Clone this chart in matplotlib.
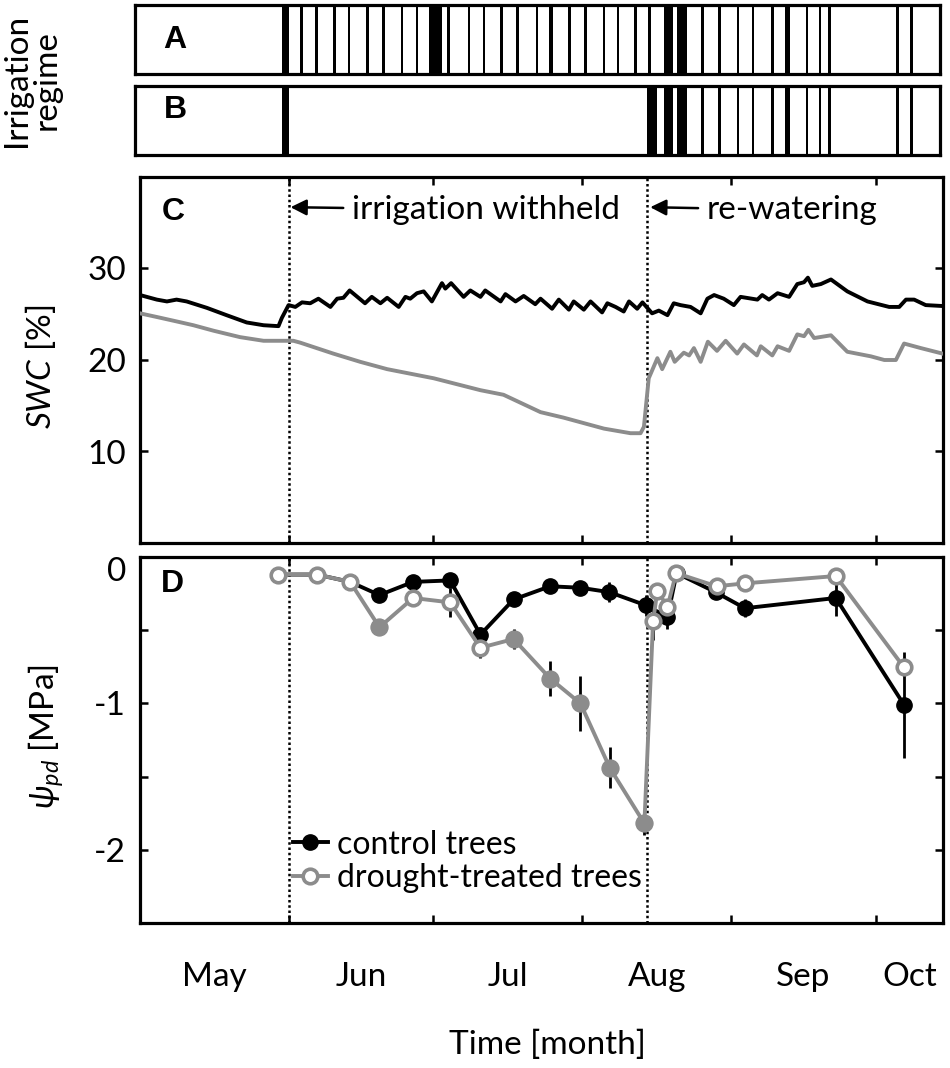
import numpy as np
import matplotlib
matplotlib.use('Agg')
import matplotlib.pyplot as plt

plt.rcParams['font.family'] = ['Lato', 'DejaVu Sans']
plt.rcParams['mathtext.fontset'] = 'custom'
plt.rcParams['mathtext.rm'] = 'Lato'
plt.rcParams['mathtext.it'] = 'Lato:italic'
plt.rcParams['axes.unicode_minus'] = False

# time axis: days since 1 May
x_max = 167
month_names = ['May', 'Jun', 'Jul', 'Aug', 'Sep', 'Oct']
month_starts = [0, 31, 61, 92, 123, 153]
withheld_day = 31
rewater_day = 105.5

# irrigation events (day, duration in days)
irr_a_days = [31.2, 34.6, 37.6, 41.3, 44.4, 48.3, 51.5, 55.4, 58.5, 62.3, 65.1, 69.3,
              72.4, 76.1, 79.3, 83.4, 86.3, 90.2, 93.4, 97.3, 100.2, 103.9, 106.8, 110.7,
              113.5, 117.8, 121.2, 125.1, 128.2, 132.2, 135.3, 139.4, 142.1, 144.0, 158.1, 161.0]
irr_a_dur = [1.45, 0.6, 0.6, 0.6, 0.6, 0.6, 0.6, 0.6, 0.6, 2.7, 0.6, 0.6,
             0.6, 0.6, 0.6, 0.6, 1.0, 0.6, 0.6, 0.6, 0.6, 0.6, 0.6, 1.9,
             2.1, 0.6, 0.6, 0.6, 0.6, 0.6, 1.0, 0.6, 0.6, 0.6, 0.6, 0.6]
irr_b_days = [31.2, 107.3, 110.7, 113.5, 117.8, 121.2, 125.1, 128.2, 132.2, 135.3,
              139.4, 142.1, 144.0, 158.1, 161.0]
irr_b_dur = [1.45, 2.1, 1.9, 2.1, 0.6, 0.6, 0.6, 0.6, 0.6, 1.0,
             0.6, 0.6, 0.6, 0.6, 0.6]

# soil water content [%]
swc_ctrl_day = [0, 3.5, 5.6, 7.6, 9.7, 13.9, 18.0, 22.2, 25.7, 28.8, 29.5, 30.2, 30.9,
                32.3, 33.7, 35.4, 37.1, 39.6, 41.0, 42.3, 43.6, 46.8, 48.2, 50.0, 51.4,
                53.8, 55.2, 56.2, 57.6, 59.0, 60.7, 62.8, 63.5, 64.7, 67.3, 68.7, 70.8,
                71.8, 75.0, 76.0, 78.1, 79.8, 82.2, 83.3, 85.7, 87.1, 89.2, 90.2, 92.3,
                93.7, 96.1, 97.2, 98.9, 100.6, 101.7, 103.4, 104.5, 106.5, 107.9, 109.7,
                111.0, 112.4, 114.5, 116.6, 118.0, 119.4, 121.4, 123.5, 124.9, 128.4,
                129.4, 130.8, 132.6, 135.0, 136.7, 138.1, 138.9, 139.8, 141.6, 143.7,
                147.1, 151.3, 155.8, 157.9, 159.3, 161.0, 163.4, 166.9]
swc_ctrl = [27.1, 26.6, 26.4, 26.6, 26.4, 25.7, 24.9, 24.1, 23.8, 23.7, 24.6, 25.3, 26.0,
            25.8, 26.3, 26.2, 26.7, 25.8, 26.7, 26.8, 27.6, 26.2, 26.9, 26.2, 26.8,
            25.8, 26.9, 26.7, 27.3, 27.5, 26.4, 28.4, 27.8, 28.4, 26.9, 27.6, 26.9,
            27.6, 26.4, 27.2, 26.4, 27.0, 26.1, 26.7, 25.6, 26.6, 25.5, 26.4, 25.5,
            26.4, 25.2, 26.2, 25.8, 25.3, 26.4, 25.6, 26.3, 25.1, 25.4, 24.9,
            26.2, 26.0, 25.8, 25.1, 26.7, 27.1, 26.7, 26.0, 26.9, 26.6,
            27.1, 26.6, 27.3, 26.9, 28.3, 28.5, 29.0, 28.1, 28.3, 28.8,
            27.5, 26.4, 25.8, 25.8, 26.6, 26.6, 26.0, 25.9]
swc_dry_day = [0, 3.5, 6.9, 11.1, 15.3, 20.8, 25.7, 31.9, 33.3, 40.2, 45.8, 51.4, 61.1,
               70.8, 75.6, 83.3, 88.1, 96.5, 102.0, 104.1, 104.8, 105.8, 107.6, 108.6,
               110.3, 111.2, 113.1, 114.2, 115.2, 116.6, 118.1, 120.0, 121.8, 124.2,
               125.6, 128.3, 129.1, 131.5, 132.6, 135.0, 136.7, 138.1, 139.0, 140.2,
               143.7, 147.1, 152.0, 154.8, 157.2, 158.9, 162.4, 166.9]
swc_dry = [25.1, 24.7, 24.3, 23.8, 23.2, 22.5, 22.1, 22.1, 21.9, 20.7, 19.8, 19.0, 18.0,
           16.7, 16.2, 14.3, 13.7, 12.5, 12.0, 12.0, 12.7, 18.0, 20.2, 19.0,
           20.9, 19.8, 20.8, 20.5, 21.3, 19.8, 22.0, 21.0, 22.1, 20.7,
           21.7, 20.5, 21.5, 20.5, 21.5, 21.0, 22.8, 22.6, 23.3, 22.4,
           22.7, 20.9, 20.4, 20.0, 20.0, 21.8, 21.3, 20.7]

# predawn water potential [MPa]
psi_ctrl_day = [28.8, 36.8, 43.7, 49.8, 56.8, 64.5, 70.8, 77.7, 85.3, 91.6, 97.6, 105.2,
                109.7, 111.6, 119.7, 125.8, 144.7, 158.9]
psi_ctrl = [-0.12, -0.12, -0.17, -0.26, -0.17, -0.16, -0.53, -0.29, -0.20, -0.21, -0.24,
            -0.33, -0.41, -0.11, -0.24, -0.35, -0.28, -1.01]
psi_ctrl_err = [0.0, 0.0, 0.0, 0.05, 0.0, 0.0, 0.05, 0.0, 0.0, 0.0, 0.07, 0.07,
                0.08, 0.0, 0.0, 0.06, 0.12, 0.36]
psi_dry_day = [28.8, 36.8, 43.7, 49.8, 56.8, 64.5, 70.8, 77.7, 85.3, 91.6, 97.7, 104.9,
               106.7, 107.6, 109.7, 111.5, 119.9, 125.8, 144.7, 158.8]
psi_dry = [-0.12, -0.12, -0.17, -0.48, -0.28, -0.31, -0.62, -0.56, -0.83, -1.00, -1.44,
           -1.82, -0.44, -0.23, -0.34, -0.11, -0.20, -0.18, -0.13, -0.75]
psi_dry_err = [0.0, 0.0, 0.0, 0.0, 0.0, 0.10, 0.07, 0.07, 0.12, 0.19, 0.14, 0.08,
               0.13, 0.0, 0.0, 0.0, 0.0, 0.0, 0.0, 0.0]
psi_dry_filled = [False, False, False, True, False, False, False, True, True, True, True,
                  True, False, False, False, False, False, False, False, False]

GRAY = '#8c8c8c'
FS = 24
SPINE_W = 2.3

fig = plt.figure(figsize=(9.5, 10.68), dpi=100)
W, H = 950.0, 1068.0

def box(x0, y0, x1, y1):
    return [x0 / W, 1 - y1 / H, (x1 - x0) / W, (y1 - y0) / H]

ax_a = fig.add_axes(box(135, 5, 940, 74))
ax_b = fig.add_axes(box(135, 86, 940, 155))
ax_c = fig.add_axes(box(140, 177, 943, 543))
ax_d = fig.add_axes(box(140, 557, 943, 923))

# irrigation regime panels
for ax, days, dur, lab, ly in [(ax_a, irr_a_days, irr_a_dur, 'A', 0.5),
                               (ax_b, irr_b_days, irr_b_dur, 'B', 0.65)]:
    starts = np.array(days) - np.array(dur) / 2
    ax.bar(starts, 1, width=dur, align='edge', color='black', linewidth=0)
    ax.set_xlim(0, x_max)
    ax.set_ylim(0, 1)
    ax.set_xticks([])
    ax.set_yticks([])
    for s in ax.spines.values():
        s.set_linewidth(SPINE_W)
    ax.text(0.05, ly, lab, transform=ax.transAxes, ha='center', va='center',
            fontsize=23, fontweight='bold', family='Liberation Sans')

fig.text(32 / W, 1 - 80 / H, 'Irrigation\nregime', rotation=90, ha='center', va='center',
         fontsize=FS, linespacing=1.0)

# common axis styling
for ax in (ax_c, ax_d):
    ax.set_xlim(0, x_max)
    ax.set_xticks(month_starts[1:])
    ax.tick_params(axis='both', which='major', direction='in', top=True, right=True,
                   length=6, width=1.8, labelsize=FS, pad=10)
    ax.tick_params(axis='x', which='major', labelbottom=False)
    for s in ax.spines.values():
        s.set_linewidth(SPINE_W)
    ax.axvline(withheld_day, color='black', ls=(0, (1, 1.1)), lw=1.8, zorder=1)
    ax.axvline(rewater_day, color='black', ls=(0, (1, 1.1)), lw=1.8, zorder=1)

# panel C: soil water content
ax_c.plot(swc_dry_day, swc_dry, color=GRAY, lw=2.8, zorder=3)
ax_c.plot(swc_ctrl_day, swc_ctrl, color='black', lw=2.8, zorder=3)
ax_c.set_ylim(0, 40)
ax_c.set_yticks([10, 20, 30])
ax_c.text(0.041, 0.905, 'C', transform=ax_c.transAxes, ha='center', va='center',
          fontsize=23, fontweight='bold', family='Liberation Sans')
ax_c.annotate('irrigation withheld', xy=(withheld_day + 0.3, 36.7), xytext=(44.0, 36.4),
              fontsize=FS, ha='left', va='center',
              arrowprops=dict(arrowstyle='-|>', color='black', lw=1.8,
                              mutation_scale=24, shrinkA=4, shrinkB=0))
ax_c.annotate('re-watering', xy=(rewater_day + 0.6, 36.7), xytext=(117.8, 36.4),
              fontsize=FS, ha='left', va='center',
              arrowprops=dict(arrowstyle='-|>', color='black', lw=1.8,
                              mutation_scale=24, shrinkA=4, shrinkB=0))
fig.text(40 / W, 1 - 367 / H, '$SWC$ [%]', rotation=90, ha='center', va='center',
         fontsize=FS)

# panel D: predawn water potential
ax_d.errorbar(psi_ctrl_day, psi_ctrl, yerr=psi_ctrl_err, fmt='none', ecolor='black',
              elinewidth=2.0, capsize=0, zorder=2)
ax_d.errorbar(psi_dry_day, psi_dry, yerr=psi_dry_err, fmt='none', ecolor='black',
              elinewidth=2.0, capsize=0, zorder=2)
ax_d.plot(psi_ctrl_day, psi_ctrl, color='black', lw=2.8, marker='o', ms=11,
          mfc='black', mec='black', zorder=3, label='control trees')
ax_d.plot(psi_dry_day, psi_dry, color=GRAY, lw=2.8, marker='o', ms=10.5, mfc='white',
          mec=GRAY, mew=2.6, zorder=4, label='drought-treated trees')
filled_x = [d for d, f in zip(psi_dry_day, psi_dry_filled) if f]
filled_y = [v for v, f in zip(psi_dry, psi_dry_filled) if f]
ax_d.plot(filled_x, filled_y, ls='none', marker='o', ms=11.5, mfc=GRAY, mec=GRAY, zorder=5)

ax_d.set_ylim(-2.5, 0)
ax_d.set_yticks([-2, -1, 0])
ax_d.set_yticks([-1.5, -0.5], minor=True)
ax_d.tick_params(axis='y', which='minor', direction='in', right=True, length=6, width=1.8)
ax_d.get_yaxis().get_major_ticks()[2].label1.set_verticalalignment('top')

mids = [(a + b) / 2 for a, b in zip(month_starts, month_starts[1:] + [x_max])]
ax_d.set_xticks(mids, minor=True)
ax_d.set_xticklabels(month_names, minor=True)
ax_d.tick_params(axis='x', which='minor', length=0, labelsize=FS, pad=28)
ax_d.text(0.041, 0.925, 'D', transform=ax_d.transAxes, ha='center', va='center',
          fontsize=23, fontweight='bold', family='Liberation Sans')
ax_d.legend(loc='upper left', bbox_to_anchor=(0.19, 0.255), frameon=False, fontsize=23,
            handlelength=1.1, handletextpad=0.3, labelspacing=0.1, borderpad=0,
            borderaxespad=0)
fig.text(46 / W, 1 - 737 / H, r'$\psi_{pd}$ [MPa]', rotation=90, ha='center',
         va='center', fontsize=FS)

fig.text(547 / W, 1 - 1045 / H, 'Time [month]', ha='center', va='center', fontsize=FS)

fig.savefig('out.png', dpi=100)
